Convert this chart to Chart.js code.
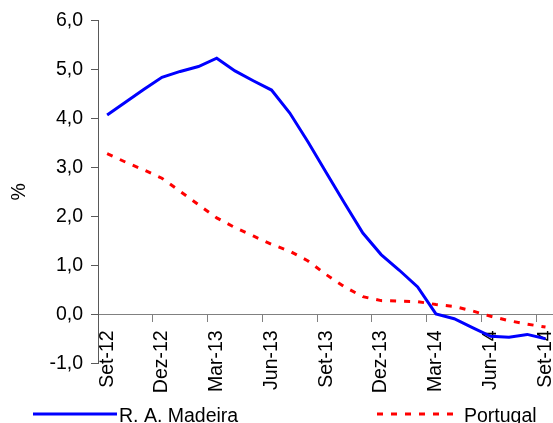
<!DOCTYPE html>
<html><head><meta charset="utf-8">
<script src="https://cdn.jsdelivr.net/npm/chart.js@4.4.0/dist/chart.umd.min.js"></script>
<style>
html,body{margin:0;padding:0;overflow:hidden;background:#fff;width:553px;height:423px}
#wrap{position:absolute;left:0;top:0;width:578px;height:423px}
canvas{display:block}
</style>
</head><body><div id="wrap"><canvas id="c" width="578" height="423"></canvas></div>
<script>
const categories = ['Set-12','Out-12','Nov-12','Dez-12','Jan-13','Fev-13','Mar-13','Abr-13','Mai-13','Jun-13','Jul-13','Ago-13','Set-13','Out-13','Nov-13','Dez-13','Jan-14','Fev-14','Mar-14','Abr-14','Mai-14','Jun-14','Jul-14','Ago-14','Set-14'];
const madeira = [4.07,4.33,4.59,4.84,4.96,5.06,5.23,4.97,4.77,4.58,4.11,3.52,2.89,2.27,1.66,1.22,0.90,0.56,0.01,-0.09,-0.27,-0.45,-0.47,-0.41,-0.50];
const portugal = [3.28,3.11,2.95,2.78,2.51,2.24,1.97,1.77,1.60,1.43,1.29,1.09,0.81,0.56,0.36,0.28,0.27,0.26,0.20,0.16,0.07,-0.04,-0.13,-0.20,-0.26];
const seriesNames = ['R. A. Madeira','Portugal'];
const yAxisTitle = '%';
const yMin = -1, yMax = 6, yStep = 1;

const FONT = '"Liberation Sans", Arial, sans-serif';
const FS = 19.5;

const legendPlugin = {
  id: 'customLegend',
  afterDraw(chart) {
    const ctx = chart.ctx;
    const items = [
      {ds: chart.data.datasets[0], x1: 33, x2: 117, tx: 119},
      {ds: chart.data.datasets[1], x1: 377, x2: 458, tx: 464}
    ];
    ctx.save();
    ctx.font = FS + 'px ' + FONT;
    ctx.textBaseline = 'alphabetic';
    ctx.textAlign = 'left';
    items.forEach(it => {
      ctx.beginPath();
      ctx.strokeStyle = it.ds.borderColor;
      ctx.lineWidth = it.ds.borderWidth;
      ctx.setLineDash(it.ds.borderDash || []);
      ctx.lineCap = 'butt';
      ctx.moveTo(it.x1, 414);
      ctx.lineTo(it.x2, 414);
      ctx.stroke();
      ctx.setLineDash([]);
      ctx.fillStyle = '#000';
      ctx.fillText(it.ds.label, it.tx, 422);
    });
    ctx.restore();
  }
};

new Chart(document.getElementById('c'), {
  type: 'line',
  data: {
    labels: categories,
    datasets: [
      {label: seriesNames[0], data: madeira, borderColor: '#0000FF', borderWidth: 3, pointRadius: 0, tension: 0, fill: false},
      {label: seriesNames[1], data: portugal, borderColor: '#FF0000', borderWidth: 3, borderDash: [6, 8], pointRadius: 0, tension: 0, fill: false}
    ]
  },
  options: {
    responsive: false,
    animation: false,
    devicePixelRatio: 1,
    layout: {padding: {left: 0, right: 5, top: 20.5, bottom: 59.7}},
    plugins: {legend: {display: false}, tooltip: {enabled: false}},
    scales: {
      x: {
        type: 'category',
        position: {y: 0},
        offset: true,
        grid: {
          offset: true,
          drawOnChartArea: false,
          drawTicks: true,
          tickLength: 7,
          tickWidth: 1,
          tickColor: c => (c.index % 3 === 0 ? '#808080' : 'rgba(0,0,0,0)')
        },
        border: {display: true, color: '#808080', width: 1},
        ticks: {
          autoSkip: false,
          minRotation: 90,
          maxRotation: 90,
          padding: 9,
          color: '#000',
          font: {family: FONT, size: FS},
          callback: function(v, i) { return i % 3 === 0 ? categories[i] : ''; }
        }
      },
      y: {
        min: yMin, max: yMax,
        afterFit: s => { s.width = 98; },
        grid: {drawOnChartArea: false, drawTicks: true, tickLength: 7, tickColor: '#595959'},
        border: {display: true, color: '#595959', width: 1},
        ticks: {
          stepSize: yStep,
          padding: 8,
          color: '#000',
          font: {family: FONT, size: FS},
          callback: v => v.toFixed(1).replace('.', ',')
        },
        title: {display: true, text: yAxisTitle, color: '#000', font: {family: FONT, size: FS}, padding: {top: 8, bottom: 0}}
      }
    }
  },
  plugins: [legendPlugin]
});
</script>
</body></html>
